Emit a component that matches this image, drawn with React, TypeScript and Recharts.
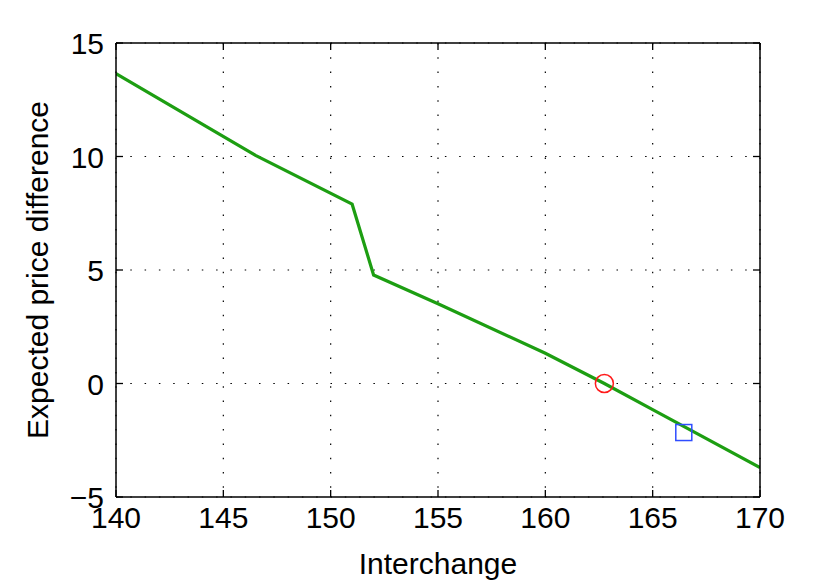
import {
  ComposedChart,
  Line,
  Scatter,
  XAxis,
  YAxis,
  CartesianGrid,
} from 'recharts';

const interchange = [140, 146.5, 151, 152, 155, 160, 162.75, 165, 170];
const priceDiff = [13.65, 10.05, 7.9, 4.78, 3.51, 1.33, 0, -1.15, -3.7];

const circlePoint = [{ x: 162.75, y: 0 }];
const squarePoint = [{ x: 166.45, y: -2.16 }];

const xTicks = [140, 145, 150, 155, 160, 165, 170];
const yTicks = [-5, 0, 5, 10, 15];

const FONT = '"Liberation Sans", Arial, sans-serif';
const TICK_LEN = 7;

const lineData = interchange.map((x, i) => ({ x, y: priceDiff[i] }));

const fmtY = (v: number) => (v < 0 ? `\u2212${Math.abs(v)}` : `${v}`);

// inward tick marks drawn together with the labels
const BottomTick = (p: any) => (
  <g>
    <line x1={p.x} y1={p.y} x2={p.x} y2={p.y - TICK_LEN} stroke="#000" strokeWidth={1.3} />
    <text x={p.x} y={p.y + 31} textAnchor="middle" fontSize={30} fontFamily={FONT} fill="#000">
      {p.payload.value}
    </text>
  </g>
);

const LeftTick = (p: any) => (
  <g>
    <line x1={p.x} y1={p.y} x2={p.x + TICK_LEN} y2={p.y} stroke="#000" strokeWidth={1.3} />
    <text x={p.x - 12} y={p.y + 11} textAnchor="end" fontSize={30} fontFamily={FONT} fill="#000">
      {fmtY(p.payload.value)}
    </text>
  </g>
);

const TopTick = (p: any) => (
  <line x1={p.x} y1={p.y} x2={p.x} y2={p.y + TICK_LEN} stroke="#000" strokeWidth={1.3} />
);

const RightTick = (p: any) => (
  <line x1={p.x} y1={p.y} x2={p.x - TICK_LEN} y2={p.y} stroke="#000" strokeWidth={1.3} />
);

export default function App() {
  return (
    <div style={{ position: 'absolute', left: 0, top: 0, background: '#fff' }}>
      <ComposedChart
        width={830}
        height={588}
        data={lineData}
        margin={{ top: 42, right: 69, left: 0, bottom: 0 }}
      >
        <CartesianGrid
          xAxisId="b"
          yAxisId="l"
          stroke="#000"
          strokeDasharray="1.5 12.8"
          strokeWidth={1.2}
          horizontalValues={yTicks}
          verticalValues={xTicks}
        />
        <XAxis
          xAxisId="b"
          dataKey="x"
          type="number"
          domain={[140, 170]}
          ticks={xTicks}
          height={91}
          tick={<BottomTick />}
          tickSize={0}
          tickMargin={0}
          tickLine={false}
          axisLine={{ stroke: '#000', strokeWidth: 1.5 }}
          interval={0}
          allowDataOverflow
          label={{
            value: 'Interchange',
            position: 'insideBottom',
            offset: 14,
            fill: '#000',
            fontSize: 30,
            fontFamily: FONT,
          }}
        />
        <XAxis
          xAxisId="t"
          orientation="top"
          dataKey="x"
          type="number"
          domain={[140, 170]}
          ticks={xTicks}
          height={1}
          tick={<TopTick />}
          tickSize={0}
          tickMargin={0}
          tickLine={false}
          axisLine={{ stroke: '#000', strokeWidth: 1.5 }}
          interval={0}
          allowDataOverflow
        />
        <YAxis
          yAxisId="l"
          type="number"
          domain={[-5, 15]}
          ticks={yTicks}
          width={116}
          tick={<LeftTick />}
          tickSize={0}
          tickMargin={0}
          tickLine={false}
          axisLine={{ stroke: '#000', strokeWidth: 1.5 }}
          interval={0}
          allowDataOverflow
          label={{
            value: 'Expected price difference',
            angle: -90,
            position: 'insideLeft',
            offset: 37,
            style: { textAnchor: 'middle' },
            fill: '#000',
            fontSize: 30,
            fontFamily: FONT,
          }}
        />
        <YAxis
          yAxisId="r"
          orientation="right"
          type="number"
          domain={[-5, 15]}
          ticks={yTicks}
          width={1}
          tick={<RightTick />}
          tickSize={0}
          tickMargin={0}
          tickLine={false}
          axisLine={{ stroke: '#000', strokeWidth: 1.5 }}
          interval={0}
          allowDataOverflow
        />
        <Line
          xAxisId="b"
          yAxisId="l"
          dataKey="y"
          stroke="#1d9e12"
          strokeWidth={3.2}
          dot={false}
          isAnimationActive={false}
        />
        <Scatter
          xAxisId="b"
          yAxisId="l"
          data={circlePoint}
          dataKey="y"
          isAnimationActive={false}
          shape={(p: any) => (
            <circle cx={p.cx} cy={p.cy} r={9} fill="none" stroke="#ff1a1a" strokeWidth={1.5} />
          )}
        />
        <Scatter
          xAxisId="b"
          yAxisId="l"
          data={squarePoint}
          dataKey="y"
          isAnimationActive={false}
          shape={(p: any) => (
            <rect x={p.cx - 8} y={p.cy - 8} width={16} height={16} fill="none" stroke="#2f4dff" strokeWidth={1.5} />
          )}
        />
      </ComposedChart>
    </div>
  );
}
